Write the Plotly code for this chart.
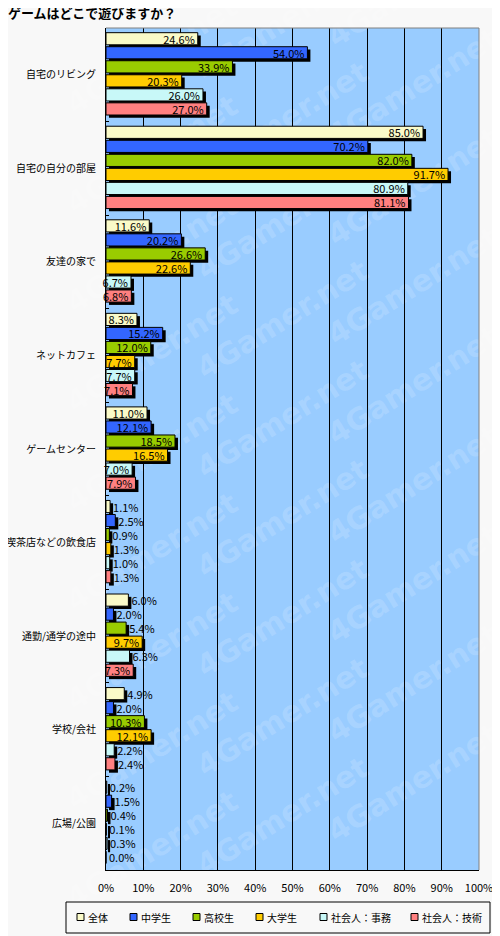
import plotly.graph_objects as go

places = ["自宅のリビング", "自宅の自分の部屋", "友達の家で", "ネットカフェ", "ゲームセンター",
          "喫茶店などの飲食店", "通勤/通学の途中", "学校/会社", "広場/公園"]

groups = ["全体", "中学生", "高校生", "大学生", "社会人：事務", "社会人：技術"]

all_resp = [24.6, 85.0, 11.6, 8.3, 11.0, 1.1, 6.0, 4.9, 0.2]
junior_high = [54.0, 70.2, 20.2, 15.2, 12.1, 2.5, 2.0, 2.0, 1.5]
high_school = [33.9, 82.0, 26.6, 12.0, 18.5, 0.9, 5.4, 10.3, 0.4]
university = [20.3, 91.7, 22.6, 7.7, 16.5, 1.3, 9.7, 12.1, 0.1]
office = [26.0, 80.9, 6.7, 7.7, 7.0, 1.0, 6.3, 2.2, 0.3]
engineer = [27.0, 81.1, 6.8, 7.1, 7.9, 1.3, 7.3, 2.4, 0.0]

series = [all_resp, junior_high, high_school, university, office, engineer]
colors = ["#FAFAC8", "#3366FF", "#99CC00", "#FFCC00", "#C8F8F8", "#FF8080"]

FONT = "Noto Sans CJK JP"
W, H = 484, 928          # page body adds 8px around the figure
ML, MR, MT, MB = 98, 13, 20, 66
PW, PH = W - ML - MR, H - MT - MB


def px_x(px):
    return (px - ML) / PW


def px_y(py):
    return (H - MB - py) / PH


pitch = 0.15
width = 0.13

fig = go.Figure()

# drop shadows first so they sit under the bars
for i, vals in enumerate(series):
    fig.add_trace(go.Bar(
        y=places, x=vals, base=0.8, orientation="h",
        offset=-0.45 + i * pitch + 0.03, width=width,
        marker=dict(color="black", line=dict(width=0)),
        showlegend=False, hoverinfo="skip"))

for i, (name, vals) in enumerate(zip(groups, series)):
    fig.add_trace(go.Bar(
        y=places, x=vals, name=name, orientation="h",
        offset=-0.45 + i * pitch, width=width,
        marker=dict(color=colors[i], line=dict(color="black", width=1)),
        text=[f"{v:.1f}%" for v in vals],
        textposition=["inside" if v >= 6.5 else "outside" for v in vals],
        insidetextanchor="end", constraintext="none", cliponaxis=False,
        textfont=dict(family=FONT, size=11, color="black"),
        showlegend=False))

shapes = []
annotations = []

# watermark tiles behind the bars
for cx in [0.12, 0.47, 0.82]:
    for k in range(9):
        cy = 0.97 - k * 0.118 + (0.04 if cx > 0.4 else 0) + (0.04 if cx > 0.7 else 0)
        shapes.append(dict(type="rect", xref="paper", yref="paper",
                           x0=cx - 0.1, x1=cx + 0.1, y0=cy - 0.02, y1=cy + 0.02,
                           line=dict(width=0), fillcolor="rgba(0,0,0,0)", layer="below",
                           label=dict(text="4Gamer.net", textangle=-32,
                                      font=dict(family="DejaVu Sans", size=30,
                                                color="rgba(255,255,255,0.16)",
                                                weight="bold"))))

# gray frame on top and right of the plot area
shapes.append(dict(type="path", xref="paper", yref="paper", path="M 0,1 L 1,1 L 1,0",
                   line=dict(color="#808080", width=1), layer="above"))

# legend box drawn by hand to keep it on one row
shapes.append(dict(type="rect", xref="paper", yref="paper",
                   x0=px_x(58), x1=px_x(482), y0=px_y(925), y1=px_y(894),
                   line=dict(color="black", width=1), fillcolor="#F8F8F8"))
legend_px = [69, 122, 185, 248, 312, 403]
for name, col, lx in zip(groups, colors, legend_px):
    shapes.append(dict(type="rect", xref="paper", yref="paper",
                       x0=px_x(lx), x1=px_x(lx + 7), y0=px_y(912.5), y1=px_y(905.5),
                       line=dict(color="black", width=1), fillcolor=col))
    annotations.append(dict(text=name, xref="paper", yref="paper",
                            x=px_x(lx + 9), y=px_y(909), xanchor="left", yanchor="middle",
                            showarrow=False, font=dict(size=10)))

fig.update_layout(
    barmode="overlay",
    width=W, height=H,
    paper_bgcolor="#F8F8F8", plot_bgcolor="#99CCFF",
    margin=dict(l=ML, r=MR, t=MT, b=MB, pad=0),
    font=dict(family=FONT, size=11, color="black"),
    title=dict(text="<b>ゲームはどこで遊びますか？</b>", x=0.0, xanchor="left",
               y=1 - 5 / H, yanchor="middle", font=dict(size=13)),
    xaxis=dict(range=[0, 100], dtick=10, ticksuffix="%", showgrid=True,
               gridcolor="black", gridwidth=1, zeroline=False,
               showline=True, linecolor="black", ticks="", ticklabelstandoff=8,
               ticklabeloverflow="allow", automargin=False, fixedrange=True),
    yaxis=dict(autorange="reversed", showline=True, linecolor="black",
               ticks="inside", tickson="boundaries", ticklen=3, tickcolor="black",
               showgrid=False, ticklabelstandoff=7, automargin=False,
               tickfont=dict(size=10)),
    shapes=shapes,
    annotations=annotations,
    showlegend=False,
)

fig.write_html("out.html")
